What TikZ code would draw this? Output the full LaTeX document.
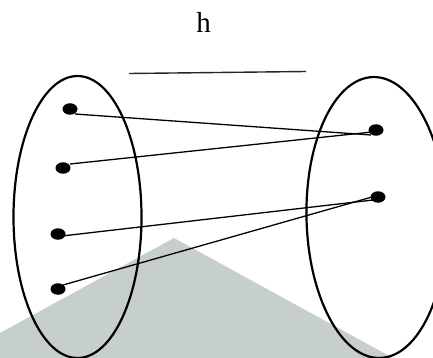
\documentclass[tikz,border=0pt]{standalone}
\usepackage{fontspec}
\setmainfont{Liberation Serif}
\usetikzlibrary{shapes.geometric}
\definecolor{hill}{HTML}{C6CFCB}
\tikzset{
  setell/.style={draw=black, line width=2.2pt, ellipse, inner sep=0pt},
  dot/.style={fill=black, ellipse, inner sep=0pt, minimum width=15pt, minimum height=11.5pt},
  mapline/.style={draw=black, line width=1.3pt},
}
\begin{document}
\begin{tikzpicture}[x=1pt,y=-1pt]
\useasboundingbox (0,0) rectangle (433,358);
% grey background shape
\fill[hill] (0,333) -- (174,238) -- (393,358) -- (0,358) -- cycle;
% label and bar
\node[anchor=base, inner sep=0pt, font=\fontsize{29}{31}\selectfont] (h) at (203.5,32.3) {h};
\coordinate (t1) at (129,73.5);
\coordinate (t2) at (306,71.5);
\draw[line width=1.4pt, black!85] (t1) -- (t2);
% sets
\node[setell, minimum width=128pt, minimum height=282pt] (A) at (77.5,217) {};
\node[setell, minimum width=140pt, minimum height=281pt, rotate=1.4] (B) at (376.5,217.5) {};
% elements
\node[dot] (a1) at (70,109) {};
\node[dot] (a2) at (63,168) {};
\node[dot] (a3) at (58,234) {};
\node[dot] (a4) at (58,289) {};
\node[dot] (b1) at (376,130) {};
\node[dot] (b2) at (378,197) {};
% mappings
\draw[mapline] ([shift={(5,5)}]a1.center) -- ([shift={(-5,5)}]b1.center);
\draw[mapline] ([shift={(7,-4)}]a2.center) -- ([shift={(-4,2)}]b1.center);
\draw[mapline] ([shift={(4,2)}]a3.center) -- ([shift={(-5,3)}]b2.center);
\draw[mapline] ([shift={(5,-4)}]a4.center) -- ([shift={(-6,0)}]b2.center);
\end{tikzpicture}
\end{document}
